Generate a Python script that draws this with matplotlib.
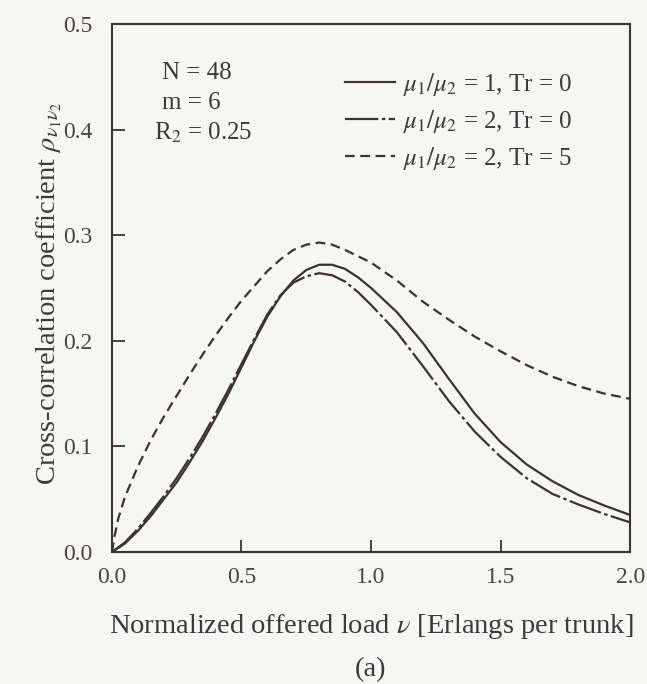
import matplotlib
matplotlib.use("Agg")
import matplotlib.pyplot as plt

# values
load = [0.0, 0.05, 0.1, 0.15, 0.2, 0.25, 0.3, 0.35, 0.4, 0.45, 0.5, 0.55, 0.6,
        0.65, 0.7, 0.75, 0.8, 0.85, 0.9, 0.95, 1.0, 1.1, 1.2, 1.3, 1.4, 1.5,
        1.6, 1.7, 1.8, 1.9, 2.0]
rho_r1_tr0 = [0.0, 0.008, 0.020, 0.034, 0.050, 0.066, 0.085, 0.105, 0.127, 0.150,
              0.175, 0.200, 0.223, 0.242, 0.257, 0.267, 0.272, 0.272, 0.268,
              0.260, 0.250, 0.227, 0.198, 0.164, 0.131, 0.104, 0.083, 0.067,
              0.054, 0.044, 0.035]
rho_r2_tr0 = [0.0, 0.009, 0.022, 0.037, 0.053, 0.070, 0.089, 0.109, 0.131, 0.154,
              0.178, 0.202, 0.225, 0.243, 0.255, 0.261, 0.264, 0.262, 0.256,
              0.246, 0.234, 0.208, 0.176, 0.143, 0.114, 0.090, 0.070, 0.055,
              0.045, 0.036, 0.028]
load_tr5 = [0.0, 0.01, 0.025, 0.05, 0.1, 0.15, 0.2, 0.25, 0.3, 0.35, 0.4, 0.45,
            0.5, 0.55, 0.6, 0.65, 0.7, 0.75, 0.8, 0.85, 0.9, 1.0, 1.1, 1.2, 1.3,
            1.4, 1.5, 1.6, 1.7, 1.8, 1.9, 2.0]
rho_r2_tr5 = [0.0, 0.015, 0.032, 0.052, 0.081, 0.106, 0.128, 0.148, 0.168, 0.187,
              0.205, 0.222, 0.238, 0.252, 0.266, 0.277, 0.286, 0.291, 0.293,
              0.291, 0.286, 0.274, 0.257, 0.237, 0.220, 0.204, 0.190, 0.177,
              0.166, 0.157, 0.150, 0.145]

labels = [r'$\mu_1/\mu_2$ = 1, Tr = 0',
          r'$\mu_1/\mu_2$ = 2, Tr = 0',
          r'$\mu_1/\mu_2$ = 2, Tr = 5']

ink = '#3a3233'
txt = '#3a3a3a'
plt.rcParams['font.family'] = ['Liberation Serif', 'DejaVu Serif']
plt.rcParams['mathtext.fontset'] = 'stix'
plt.rcParams['lines.scale_dashes'] = False
fs_tick = 17
fs_lab = 20.5
fs_ann = 18

fig = plt.figure(figsize=(6.47, 6.84), dpi=100, facecolor='#f6f6f4')
ax = fig.add_axes([0.173, 0.193, 0.801, 0.772])
ax.set_facecolor('#f6f6f4')

ax.plot(load, rho_r1_tr0, color=ink, lw=1.6, label=labels[0])
ax.plot(load, rho_r2_tr0, color=ink, lw=1.6, dashes=(24, 2.5, 2.5, 2.5),
        label=labels[1])
ax.plot(load_tr5, rho_r2_tr5, color=ink, lw=1.6, dashes=(7, 4),
        label=labels[2])

ax.set_xlim(0, 2.0)
ax.set_ylim(0, 0.5)
ax.set_xticks([0.0, 0.5, 1.0, 1.5, 2.0])
ax.set_yticks([0.0, 0.1, 0.2, 0.3, 0.4, 0.5])
ax.tick_params(direction='in', length=9, width=1.3, colors=ink,
               labelsize=fs_tick, labelcolor='#4a4444')
ax.tick_params(axis='y', pad=14)
ax.tick_params(axis='x', pad=11)
for s in ax.spines.values():
    s.set_color(ink)
    s.set_linewidth(1.5)

ax.set_xlabel(r'Normalized offered load $\nu$ [Erlangs per trunk]',
              fontsize=fs_lab, color=txt, labelpad=17)
ax.set_ylabel(r'Cross-correlation coefficient $\rho_{\nu_1\nu_2}$',
              fontsize=fs_lab, color=txt)
ax.yaxis.set_label_coords(-0.092, 0.49)

ax.text(0.096, 0.908, 'N = 48', transform=ax.transAxes, fontsize=fs_ann,
        color=txt, va='center')
ax.text(0.096, 0.850, 'm = 6', transform=ax.transAxes, fontsize=fs_ann,
        color=txt, va='center')
ax.text(0.081, 0.793, r'R$_2$ = 0.25', transform=ax.transAxes, fontsize=fs_ann,
        color=txt, va='center')

leg = ax.legend(loc='upper left', bbox_to_anchor=(0.43, 0.93), frameon=False,
                fontsize=fs_ann, handlelength=2.0, handletextpad=0.32,
                labelspacing=0.4, borderaxespad=0)
for t in leg.get_texts():
    t.set_color(txt)

fig.text(0.572, 0.011, '(a)', fontsize=fs_lab, color=txt, ha='center')

fig.savefig('out.png', dpi=100, facecolor=fig.get_facecolor())
